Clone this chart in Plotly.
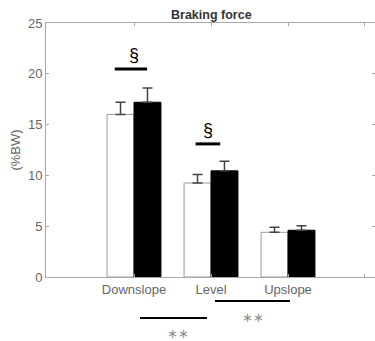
import plotly.graph_objects as go

categories = ["Downslope", "Level", "Upslope"]
x_pos = [1, 2, 3]
white_vals = [16.0, 9.25, 4.4]
white_err = [1.2, 0.85, 0.5]
black_vals = [17.2, 10.45, 4.6]
black_err = [1.4, 0.95, 0.45]

fig = go.Figure()
fig.add_trace(go.Bar(
    x=x_pos, y=white_vals, name="A",
    marker=dict(color="white", line=dict(color="#9a9a9a", width=1)),
    error_y=dict(type="data", array=white_err, arrayminus=[0, 0, 0], symmetric=False,
                 color="#444444", thickness=1.5, width=5),
))
fig.add_trace(go.Bar(
    x=x_pos, y=black_vals, name="B",
    marker=dict(color="black", line=dict(color="black", width=1)),
    error_y=dict(type="data", array=black_err, arrayminus=[0, 0, 0], symmetric=False,
                 color="#444444", thickness=1.5, width=5),
))

fig.update_layout(
    width=375, height=341,
    margin=dict(l=46, r=0, t=23, b=64),
    paper_bgcolor="white", plot_bgcolor="white",
    barmode="group", bargap=0.3, bargroupgap=0,
    showlegend=False,
    font=dict(family="Liberation Sans, Arial, sans-serif", size=13, color="#666666"),
    xaxis=dict(range=[-0.143, 4.13], tickvals=[1, 2, 3, 4],
               ticktext=categories + [""], showgrid=False, zeroline=False,
               showline=True, linecolor="#a8a8a8", linewidth=1, mirror="ticks",
               ticks="inside", ticklen=3, tickcolor="#a8a8a8",
               tickfont=dict(size=13, color="#666666")),
    yaxis=dict(range=[0, 25], tickvals=[0, 5, 10, 15, 20, 25], showgrid=False,
               zeroline=False, showline=True, linecolor="#a8a8a8", linewidth=1,
               mirror="ticks", ticks="inside", ticklen=3, tickcolor="#a8a8a8",
               tickfont=dict(size=13, color="#666666"),
               title=dict(text="(%BW)", font=dict(size=13, color="#666666"), standoff=4)),
)

# Title
fig.add_annotation(text="<b>Braking force</b>", xref="paper", yref="paper",
                   x=(211 - 46) / 329, y=(277 - 15) / 254, yanchor="middle",
                   showarrow=False, font=dict(size=12.5, color="#333333"))

# Significance markers inside plot
fig.add_shape(type="line", xref="x", yref="y", x0=0.75, x1=1.17, y0=20.47, y1=20.47,
              line=dict(color="black", width=3))
fig.add_annotation(text="§", xref="x", yref="y", x=1.0, y=21.9, showarrow=False,
                   font=dict(size=18, color="black"))
fig.add_shape(type="line", xref="x", yref="y", x0=1.8, x1=2.12, y0=13.1, y1=13.1,
              line=dict(color="black", width=3))
fig.add_annotation(text="§", xref="x", yref="y", x=1.96, y=14.5, showarrow=False,
                   font=dict(size=18, color="black"))

# Below axis
fig.add_shape(type="line", xref="paper", yref="paper",
              x0=(215 - 46) / 329, x1=(290 - 46) / 329,
              y0=(277 - 301) / 254, y1=(277 - 301) / 254,
              line=dict(color="black", width=2))
fig.add_annotation(text="∗∗", xref="paper", yref="paper",
                   x=(253 - 46) / 329, y=(277 - 327) / 254, showarrow=False,
                   font=dict(family="DejaVu Sans", size=13, color="#909090"))
fig.add_shape(type="line", xref="paper", yref="paper",
              x0=(140 - 46) / 329, x1=(207 - 46) / 329,
              y0=(277 - 318) / 254, y1=(277 - 318) / 254,
              line=dict(color="black", width=2))
fig.add_annotation(text="∗∗", xref="paper", yref="paper",
                   x=(178 - 46) / 329, y=(277 - 343) / 254, showarrow=False,
                   font=dict(family="DejaVu Sans", size=13, color="#909090"))

fig.write_html("out.html", config={"displayModeBar": False},
               post_script="document.body.style.margin='0';document.body.style.overflow='hidden';")
